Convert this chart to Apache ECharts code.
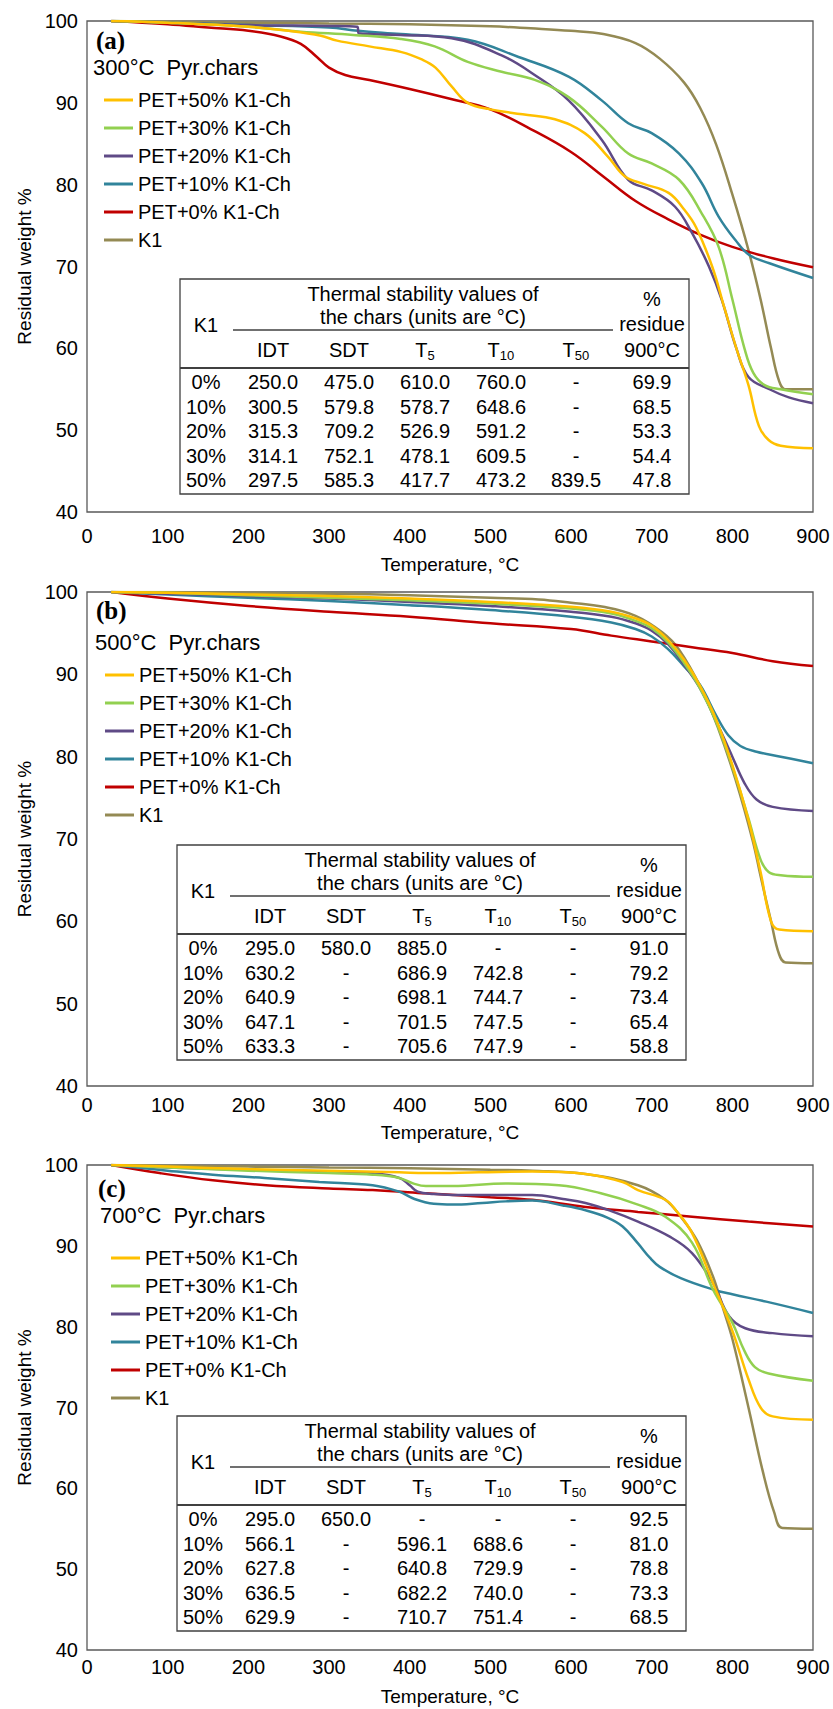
<!DOCTYPE html>
<html>
<head>
<meta charset="utf-8">
<title>TGA of PET + K1 chars</title>
<script src="https://cdn.jsdelivr.net/npm/echarts@6.0.0/dist/echarts.min.js"></script>
<style>
  html, body { margin: 0; padding: 0; background: #fff; }
  #chart { width: 833px; height: 1709px; }
</style>
</head>
<body>
<div id="chart"></div>
<script>
// series names / colours (same in the three panels)
const seriesNames = ['PET+50% K1-Ch', 'PET+30% K1-Ch', 'PET+20% K1-Ch', 'PET+10% K1-Ch', 'PET+0% K1-Ch', 'K1'];
const seriesColors = ['#FFC000', '#92D050', '#5F4A86', '#31849B', '#C00000', '#948A54'];

const xTicks = [0, 100, 200, 300, 400, 500, 600, 700, 800, 900];
const yTicks = [40, 50, 60, 70, 80, 90, 100];

// (a) 300°C chars  [temperature, residual weight %]
const a_pet50 = [[30,100],[100,99.8],[200,99.3],[250,98.8],[290,98.2],[310,97.6],[350,96.9],[390,96.2],[415,95.3],[432,94.3],[452,92],[472,90],[500,89.2],[540,88.6],[580,88],[617,86.3],[646,83.4],[667,81],[690,80.1],[721,79],[740,77],[755,74.8],[775,70],[790,65],[805,60],[820,55.5],[833,50.5],[845,48.8],[860,48.1],[900,47.8]];
const a_pet30 = [[30,100],[100,99.8],[200,99.3],[265,98.7],[330,98.3],[389,97.8],[431,96.9],[472,95],[514,93.8],[555,92.8],[597,90.7],[638,87.1],[671,83.8],[700,82.6],[734,80.6],[762,76.5],[783,72.4],[800,66],[815,60],[826,57],[840,55.5],[860,55],[900,54.4]];
const a_pet20 = [[30,100],[100,99.8],[200,99.5],[300,99.4],[335,99.3],[337,98.5],[389,98.3],[452,97.9],[514,95.8],[555,93.4],[597,90.3],[638,85.5],[671,80.6],[700,79.3],[729,77.3],[750,74.1],[771,70],[787,65.9],[805,60],[820,56.5],[846,55],[870,54],[900,53.3]];
const a_pet10 = [[30,100],[100,99.8],[200,99.5],[300,99.2],[336,98.8],[389,98.4],[472,97.7],[535,95.6],[597,93.2],[638,90.3],[671,87.5],[700,86.3],[734,83.8],[762,80.2],[783,76.1],[804,73.2],[821,71.4],[846,70.4],[900,68.6]];
const a_pet0 = [[30,100],[100,99.6],[150,99.2],[200,98.8],[240,98.1],[265,97.2],[285,95.6],[300,94.3],[320,93.4],[350,92.8],[400,91.7],[450,90.5],[500,89.2],[550,86.8],[600,84],[640,81],[680,78],[720,75.8],[760,73.9],[800,72.4],[850,71],[900,69.9]];
const a_k1 = [[30,100],[100,99.9],[200,99.8],[300,99.7],[400,99.6],[500,99.35],[550,99.1],[600,98.8],[640,98.4],[680,97.3],[710,95.4],[740,92.5],[760,89.4],[780,84.9],[800,78.8],[820,72],[835,66],[848,60],[858,56],[866,55],[900,55]];

// (b) 500°C chars
const b_pet50 = [[30,100],[100,99.9],[200,99.7],[300,99.5],[400,99.2],[500,98.8],[600,98.2],[650,97.6],[680,96.8],[700,95.9],[720,94.2],[740,91.8],[760,88.6],[780,84.5],[800,79],[820,72.3],[835,66],[848,60],[858,59],[900,58.8]];
const b_pet30 = [[30,100],[100,99.9],[200,99.6],[300,99.3],[400,99],[500,98.6],[600,98],[650,97.4],[680,96.5],[700,95.6],[720,93.9],[740,91.4],[760,88.3],[780,84.2],[800,78.8],[820,72.5],[835,67.5],[845,66],[860,65.6],[900,65.4]];
const b_pet20 = [[30,100],[100,99.8],[200,99.5],[300,99.2],[400,98.8],[500,98.3],[600,97.6],[650,97],[680,96.2],[700,95.3],[720,93.7],[740,91.2],[760,88.3],[780,84.3],[800,80],[815,76.8],[830,74.8],[850,73.9],[900,73.4]];
const b_pet10 = [[30,100],[100,99.7],[200,99.3],[300,98.9],[400,98.4],[500,97.8],[600,97],[650,96.3],[680,95.5],[700,94.6],[720,93.1],[740,91],[760,88.7],[780,85],[795,82.6],[810,81.3],[830,80.6],[860,80],[900,79.2]];
const b_pet0 = [[30,100],[100,99.2],[200,98.3],[300,97.6],[400,97],[500,96.2],[600,95.5],[650,94.7],[700,94],[750,93.3],[800,92.6],[850,91.6],[900,91]];
const b_k1 = [[30,100],[100,100],[200,99.9],[300,99.8],[400,99.6],[500,99.3],[560,99.1],[600,98.7],[640,98.2],[680,97.1],[713,95.1],[734,93],[762,88.2],[783,83.3],[804,77.2],[825,69.9],[835,65.5],[848,60],[858,56],[866,55],[900,54.9]];

// (c) 700°C chars
const c_pet50 = [[30,100],[100,99.8],[200,99.5],[300,99.3],[387,99.1],[420,99],[486,99.1],[552,99.2],[618,98.9],[664,97.9],[683,96.9],[717,95.7],[730,94.4],[750,91.6],[776,85.4],[800,79.5],[820,73.5],[835,70],[850,68.9],[900,68.5]];
const c_pet30 = [[30,100],[100,99.7],[200,99.3],[300,99],[354,98.8],[387,98.4],[405,97.7],[420,97.4],[453,97.4],[519,97.7],[585,97.5],[637,96.5],[683,95.1],[717,93.6],[750,90.4],[776,84.6],[800,80.5],[815,77],[828,75],[845,74.2],[900,73.3]];
const c_pet20 = [[30,100],[100,99.7],[200,99.4],[300,99.2],[354,99],[387,98.4],[400,97.5],[410,96.7],[430,96.4],[453,96.3],[500,96.3],[552,96.3],[590,95.8],[618,95.3],[650,94.3],[683,93],[723,91.1],[750,89.1],[776,85.4],[796,81.3],[816,79.8],[850,79.2],[900,78.8]];
const c_pet10 = [[30,100],[100,99.3],[156,98.8],[220,98.4],[288,97.9],[354,97.5],[387,96.7],[406,95.8],[430,95.2],[453,95.1],[490,95.3],[519,95.5],[552,95.6],[590,95],[618,94.4],[645,93.5],[664,92.4],[683,90.3],[698,88.5],[710,87.4],[736,86],[776,84.6],[800,84],[842,83.1],[900,81.7]];
const c_pet0 = [[30,100],[90,99],[156,98.1],[222,97.5],[300,97.1],[354,96.9],[420,96.5],[500,96],[552,95.7],[618,94.8],[683,94.2],[750,93.6],[820,93],[900,92.4]];
const c_k1 = [[30,100],[100,99.9],[200,99.8],[300,99.7],[400,99.6],[500,99.4],[552,99.3],[618,98.9],[683,97.5],[717,95.7],[736,93.6],[756,90.7],[776,86.2],[789,82.1],[800,78.5],[820,70],[838,62],[852,57],[862,55.1],[900,55]];

// inset tables
const tableCols = ['IDT', 'SDT', 'T5', 'T10', 'T50', '900°C'];
const a_table = [
  ['0%', '250.0', '475.0', '610.0', '760.0', '-', '69.9'],
  ['10%', '300.5', '579.8', '578.7', '648.6', '-', '68.5'],
  ['20%', '315.3', '709.2', '526.9', '591.2', '-', '53.3'],
  ['30%', '314.1', '752.1', '478.1', '609.5', '-', '54.4'],
  ['50%', '297.5', '585.3', '417.7', '473.2', '839.5', '47.8']
];
const b_table = [
  ['0%', '295.0', '580.0', '885.0', '-', '-', '91.0'],
  ['10%', '630.2', '-', '686.9', '742.8', '-', '79.2'],
  ['20%', '640.9', '-', '698.1', '744.7', '-', '73.4'],
  ['30%', '647.1', '-', '701.5', '747.5', '-', '65.4'],
  ['50%', '633.3', '-', '705.6', '747.9', '-', '58.8']
];
const c_table = [
  ['0%', '295.0', '650.0', '-', '-', '-', '92.5'],
  ['10%', '566.1', '-', '596.1', '688.6', '-', '81.0'],
  ['20%', '627.8', '-', '640.8', '729.9', '-', '78.8'],
  ['30%', '636.5', '-', '682.2', '740.0', '-', '73.3'],
  ['50%', '629.9', '-', '710.7', '751.4', '-', '68.5']
];

const panels = [
  { tag: '(a)', title: '300°C  Pyr.chars', curves: [a_pet50, a_pet30, a_pet20, a_pet10, a_pet0, a_k1], table: a_table,
    top: 21, height: 491, labelMargin: 14, nameGap: 43, legendTop: 90, legendLeft: 104,
    titleX: 93, titleY: 67, tagX: 96, tagY: 40, tableX: 180, tableY: 279 },
  { tag: '(b)', title: '500°C  Pyr.chars', curves: [b_pet50, b_pet30, b_pet20, b_pet10, b_pet0, b_k1], table: b_table,
    top: 592, height: 494, labelMargin: 9, nameGap: 37, legendTop: 665, legendLeft: 105,
    titleX: 95, titleY: 642, tagX: 96, tagY: 610, tableX: 177, tableY: 845 },
  { tag: '(c)', title: '700°C  Pyr.chars', curves: [c_pet50, c_pet30, c_pet20, c_pet10, c_pet0, c_k1], table: c_table,
    top: 1165, height: 485, labelMargin: 7, nameGap: 37, legendTop: 1248, legendLeft: 111,
    titleX: 100, titleY: 1215, tagX: 98, tagY: 1188, tableX: 177, tableY: 1416 }
];

const FONT = '"Liberation Sans", Arial, sans-serif';
const colX = [26, 93, 169, 245, 321, 396, 472]; // column centres inside a table
const Z = 100;

function txt(x, y, text, size, align, extra) {
  return Object.assign({
    type: 'text', x: x, y: y, z: Z,
    style: { text: text, fill: '#000', font: size + 'px ' + FONT, align: align || 'center', verticalAlign: 'middle' }
  }, extra || {});
}

// header like T5 / T10 with subscript
function subHeader(cx, y, label) {
  const sub = label.slice(1);
  const tw = 12.2, sw = 7.3 * sub.length;
  const x0 = cx - (tw + sw) / 2;
  return [
    txt(x0, y, 'T', 20, 'left'),
    txt(x0 + tw, y + 5, sub, 13, 'left')
  ];
}

function buildTable(p) {
  const L = p.tableX, T = p.tableY, W = 509, H = 215;
  const els = [];
  els.push({ type: 'rect', z: Z - 1, shape: { x: L, y: T, width: W, height: H },
    style: { fill: '#fff', stroke: '#404040', lineWidth: 1.3 } });
  els.push(txt(L + colX[0], T + 46, 'K1', 20));
  els.push(txt(L + 243, T + 15, 'Thermal stability values of', 20));
  els.push(txt(L + 243, T + 38, 'the chars (units are °C)', 20));
  els.push({ type: 'line', z: Z, shape: { x1: L + 53, y1: T + 51, x2: L + 433, y2: T + 51 },
    style: { stroke: '#404040', lineWidth: 1.3 } });
  els.push(txt(L + colX[6], T + 20, '%', 20));
  els.push(txt(L + colX[6], T + 45, 'residue', 20));
  tableCols.forEach(function (c, i) {
    if (c.charAt(0) === 'T') {
      subHeader(L + colX[i + 1], T + 71, c).forEach(function (e) { els.push(e); });
    } else {
      els.push(txt(L + colX[i + 1], T + 71, c, 20));
    }
  });
  els.push({ type: 'line', z: Z, shape: { x1: L, y1: T + 89, x2: L + W, y2: T + 89 },
    style: { stroke: '#404040', lineWidth: 1.8 } });
  p.table.forEach(function (row, r) {
    row.forEach(function (v, i) {
      els.push(txt(L + colX[i], T + 103 + r * 24.6, v, 20));
    });
  });
  return els;
}

const grid = [], xAxis = [], yAxis = [], series = [], legend = [], graphic = [];

panels.forEach(function (p, k) {
  grid.push({ left: 87, width: 726, top: p.top, height: p.height, show: true,
    borderColor: '#595959', borderWidth: 1.3, backgroundColor: 'transparent' });
  xAxis.push({
    type: 'value', gridIndex: k, min: xTicks[0], max: xTicks[xTicks.length - 1], interval: 100,
    name: 'Temperature, °C', nameLocation: 'middle', nameGap: p.nameGap,
    nameTextStyle: { fontSize: 19, color: '#000', fontFamily: FONT },
    axisLine: { show: false }, axisTick: { show: false }, splitLine: { show: false },
    axisLabel: { fontSize: 20, color: '#000', fontFamily: FONT, margin: p.labelMargin }
  });
  yAxis.push({
    type: 'value', gridIndex: k, min: yTicks[0], max: yTicks[yTicks.length - 1], interval: 10,
    name: 'Residual weight %', nameLocation: 'middle', nameGap: 53,
    nameTextStyle: { fontSize: 19, color: '#000', fontFamily: FONT },
    axisLine: { show: false }, axisTick: { show: false }, splitLine: { show: false },
    axisLabel: { fontSize: 20, color: '#000', fontFamily: FONT, margin: 9 }
  });
  // draw K1 first, yellow last
  for (let i = seriesNames.length - 1; i >= 0; i--) {
    series.push({
      type: 'line', name: seriesNames[i], xAxisIndex: k, yAxisIndex: k,
      data: p.curves[i], symbol: 'none', smooth: 0.4,
      color: seriesColors[i], lineStyle: { width: 2.5, color: seriesColors[i] }
    });
  }
  legend.push({
    data: seriesNames, orient: 'vertical', left: p.legendLeft, top: p.legendTop,
    padding: 0, itemGap: 8, itemWidth: 29, itemHeight: 3, icon: 'rect', selectedMode: false,
    textStyle: { fontSize: 20, color: '#000', fontFamily: FONT, lineHeight: 20 }
  });
  graphic.push({ type: 'text', x: p.tagX, y: p.tagY, z: Z,
    style: { text: p.tag, fill: '#000', font: 'bold 25px "Liberation Serif", serif', align: 'left', verticalAlign: 'middle' } });
  graphic.push(txt(p.titleX, p.titleY, p.title, 22, 'left'));
  buildTable(p).forEach(function (e) { graphic.push(e); });
});

const chart = echarts.init(document.getElementById('chart'), null, { renderer: 'svg' });
chart.setOption({
  animation: false,
  backgroundColor: '#fff',
  grid: grid, xAxis: xAxis, yAxis: yAxis, series: series, legend: legend, graphic: graphic
});
</script>
</body>
</html>
